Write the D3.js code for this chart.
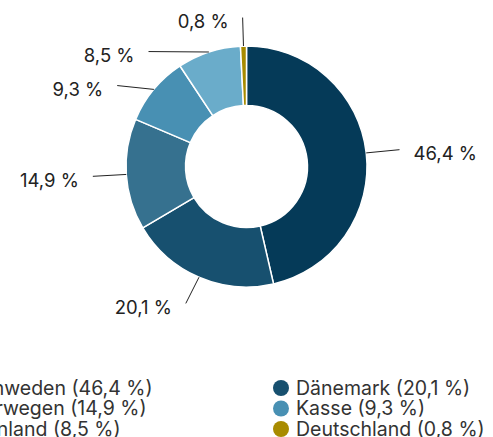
<!DOCTYPE html>
<html>
<head>
<meta charset="utf-8">
<script src="https://cdn.jsdelivr.net/npm/d3@7"></script>
<style>
  html, body { margin: 0; padding: 0; background: #fff; }
  svg { display: block; font-family: Inter, "Noto Sans", sans-serif; font-weight: 400; }
</style>
</head>
<body>
<svg id="chart" width="493" height="437"></svg>
<script>
// ---- data ----
const categories = ["Schweden", "Dänemark", "Norwegen", "Kasse", "Finnland", "Deutschland"];
const values = [46.4, 20.1, 14.9, 9.3, 8.5, 0.8];
const colors = ["#053a58", "#17506f", "#36718f", "#4890b3", "#6aacca", "#a88b00"];

const fmt = v => d3.format(".1f")(v).replace(".", ",") + " %";

const svg = d3.select("#chart");
const cx = 246.5, cy = 166.5;
const rOuter = 120.5, rInner = 61;
const labelRx = 154, labelRy = 149, labelGap = 34, textPad = 14;

const data = categories.map((c, i) => ({ name: c, value: values[i], color: colors[i] }));
const pie = d3.pie().value(d => d.value).sort(null);
const arcs = pie(data);
const arc = d3.arc().innerRadius(rInner).outerRadius(rOuter);

const g = svg.append("g").attr("transform", `translate(${cx},${cy})`);

g.selectAll("path.slice")
  .data(arcs)
  .enter().append("path")
  .attr("class", "slice")
  .attr("d", arc)
  .attr("fill", d => d.data.color)
  .attr("stroke", "#fff")
  .attr("stroke-width", 1.5)
  .attr("stroke-linejoin", "round");

// ---- label layout ----
const labelInfo = arcs.map(a => {
  const mid = (a.startAngle + a.endAngle) / 2;
  return {
    a, mid,
    left: Math.sin(mid) < 0,
    sx: Math.sin(mid) * rOuter,
    sy: -Math.cos(mid) * rOuter,
    y: -Math.cos(mid) * labelRy
  };
});
["left", "right"].forEach(side => {
  const group = labelInfo.filter(d => (side === "left") === d.left).sort((p, q) => p.y - q.y);
  for (let i = 1; i < group.length; i++) {
    if (group[i].y < group[i - 1].y + labelGap) group[i].y = group[i - 1].y + labelGap;
  }
});
labelInfo.forEach(d => {
  const t = Math.min(1, Math.abs(d.y) / labelRy);
  d.x = (d.left ? -1 : 1) * labelRx * Math.sqrt(1 - t * t);
});

g.selectAll("line.conn")
  .data(labelInfo)
  .enter().append("line")
  .attr("class", "conn")
  .attr("x1", d => d.sx).attr("y1", d => d.sy)
  .attr("x2", d => d.x).attr("y2", d => d.y)
  .attr("stroke", "#222").attr("stroke-width", 1);

g.selectAll("text.lbl")
  .data(labelInfo)
  .enter().append("text")
  .attr("class", "lbl")
  .attr("x", d => d.left ? d.x - textPad : d.x + textPad)
  .attr("y", d => d.y + 4)
  .attr("dy", "0.35em")
  .attr("text-anchor", d => d.left ? "end" : "start")
  .attr("fill", "#222")
  .style("font-size", "18.5px")
  .text(d => fmt(d.a.data.value));

// ---- legend ----
const legendX0 = 281, colStep = 327, legendY0 = 388, rowStep = 20.5;
const lg = svg.append("g");
const items = lg.selectAll("g.item")
  .data(data)
  .enter().append("g")
  .attr("class", "item")
  .attr("transform", (d, i) => `translate(${legendX0 - (1 - (i % 2)) * colStep},${legendY0 + Math.floor(i / 2) * rowStep})`);
items.append("circle").attr("r", 8).attr("fill", d => d.color);
items.append("text")
  .attr("x", 15)
  .attr("dy", "0.35em")
  .attr("fill", "#333")
  .style("font-size", "19.5px")
  .text(d => `${d.name} (${fmt(d.value)})`);
</script>
</body>
</html>
